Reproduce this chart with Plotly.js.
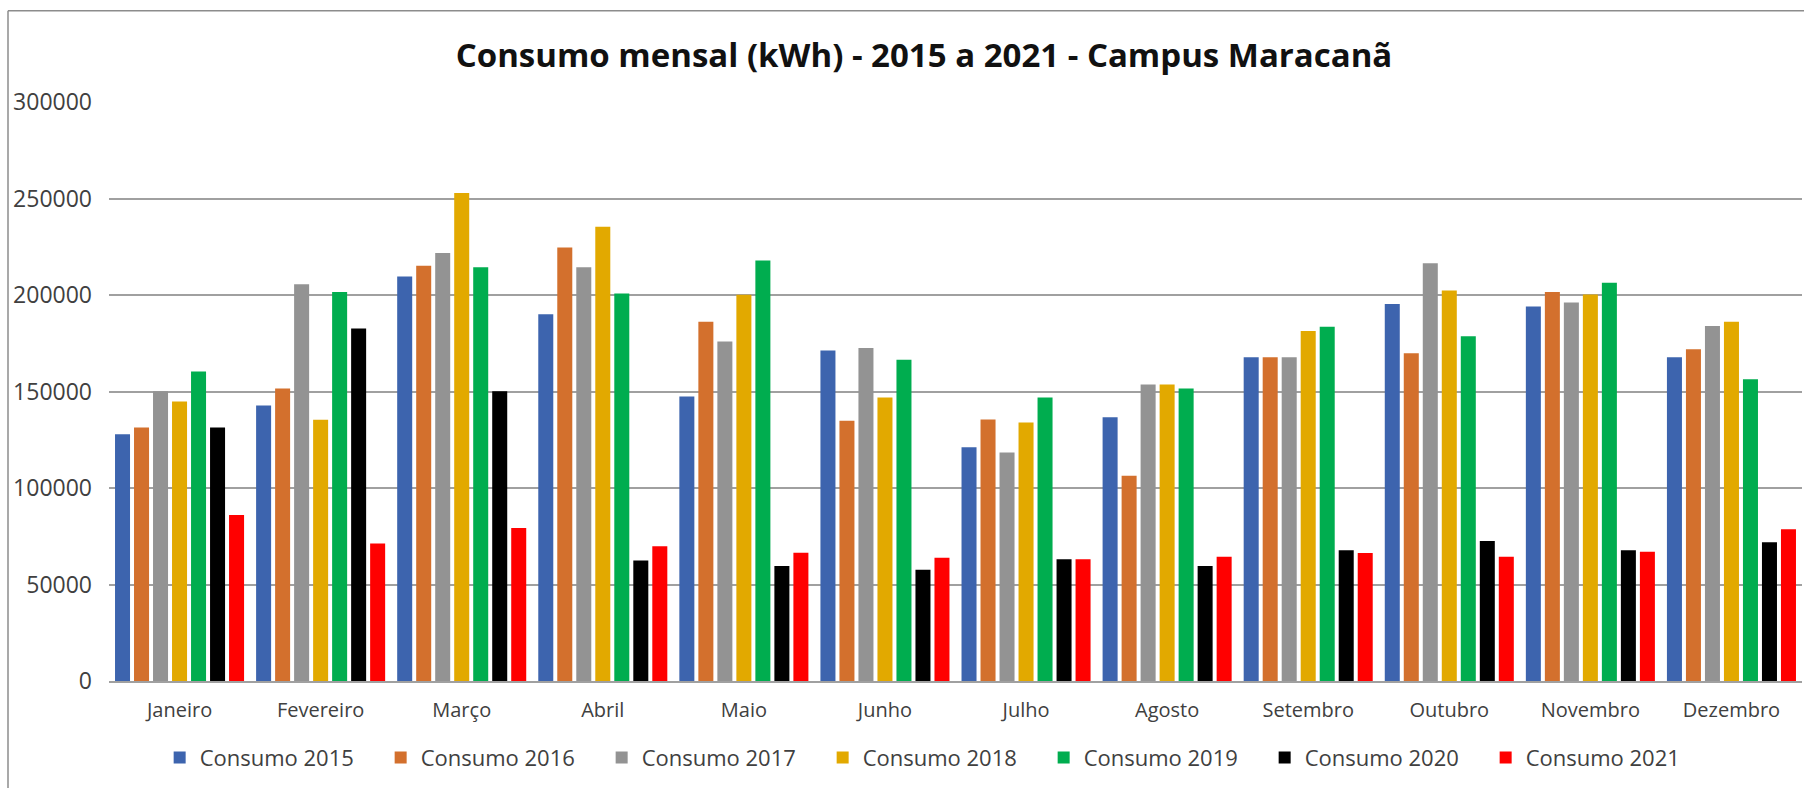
<!DOCTYPE html>
<html>
<head>
<meta charset="utf-8">
<script src="https://cdn.plot.ly/plotly-3.0.1.min.js"></script>
<style>
  html, body { margin: 0; padding: 0; background: #ffffff; }
  #chart { width: 1804px; height: 788px; }
</style>
</head>
<body>
<div id="chart"></div>
<script>
// ---- Data ----
const months = ["Janeiro", "Fevereiro", "Março", "Abril", "Maio", "Junho",
                "Julho", "Agosto", "Setembro", "Outubro", "Novembro", "Dezembro"];

const consumo2015 = [127900, 142700, 209600, 190000, 147400, 171200, 121100, 136700, 167800, 195400, 194000, 167800];
const consumo2016 = [131300, 151500, 215100, 224600, 186100, 134800, 135500, 106400, 167800, 169800, 201600, 171900];
const consumo2017 = [150100, 205600, 221800, 214400, 175900, 172600, 118400, 153600, 167800, 216500, 196100, 184000];
const consumo2018 = [144800, 135300, 252900, 235300, 200100, 146900, 133900, 153600, 181400, 202300, 200200, 186100];
const consumo2019 = [160300, 201600, 214400, 200800, 217900, 166400, 146900, 151500, 183500, 178600, 206300, 156400];
const consumo2020 = [131300, 182600, 150100, 62400, 59600, 57700, 63100, 59600, 67700, 72600, 67700, 71900];
const consumo2021 = [86000, 71200, 79300, 69800, 66500, 63800, 63100, 64400, 66300, 64400, 67000, 78600];

const seriesNames = ["Consumo 2015", "Consumo 2016", "Consumo 2017", "Consumo 2018",
                     "Consumo 2019", "Consumo 2020", "Consumo 2021"];
const seriesValues = [consumo2015, consumo2016, consumo2017, consumo2018,
                      consumo2019, consumo2020, consumo2021];
const seriesColors = ["#3D64AE", "#D3702D", "#939393", "#E2A900", "#00AD4F", "#000000", "#FF0000"];

const yTicks = [0, 50000, 100000, 150000, 200000, 250000, 300000];

const traces = seriesNames.map((name, i) => ({
  type: "bar",
  name: name,
  x: months,
  y: seriesValues[i],
  marker: { color: seriesColors[i], line: { width: 0 } },
  hoverinfo: "x+y+name"
}));

const fontFam = "'Open Sans', 'Noto Sans', Arial, sans-serif";

const layout = {
  width: 1804,
  height: 788,
  paper_bgcolor: "#ffffff",
  plot_bgcolor: "#ffffff",
  margin: { l: 109, r: 2, t: 102, b: 107, pad: 0 },
  barmode: "group",
  bargap: 0.057,
  bargroupgap: 0.21,
  title: {
    text: "<b>Consumo mensal (kWh) - 2015 a 2021 - Campus Maracanã</b>",
    font: { family: fontFam, size: 33, color: "#111111" },
    xref: "container", x: 0.5122, xanchor: "center",
    yref: "container", y: 0.930, yanchor: "middle"
  },
  xaxis: {
    type: "category",
    showgrid: false,
    showline: true,
    linecolor: "#a0a0a0",
    linewidth: 1.5,
    ticks: "",
    tickfont: { family: fontFam, size: 20, color: "#404040" },
    ticklabelstandoff: 10,
    zeroline: false,
    fixedrange: true
  },
  yaxis: {
    range: [0, 300000],
    tickvals: yTicks,
    ticktext: yTicks.map(v => String(v)),
    showgrid: true,
    gridcolor: "#a0a0a0",
    gridwidth: 1.5,
    zeroline: false,
    showline: false,
    ticks: "",
    tickfont: { family: fontFam, size: 23, color: "#404040" },
    ticklabelstandoff: 16,
    fixedrange: true
  },
  showlegend: true,
  legend: {
    orientation: "h",
    xref: "container", x: 0.0885, xanchor: "left",
    yref: "container", y: 0.0384, yanchor: "middle",
    entrywidth: 176,
    entrywidthmode: "pixels",
    font: { family: fontFam, size: 22, color: "#404040" },
    bgcolor: "rgba(0,0,0,0)",
    borderwidth: 0,
    itemclick: false,
    itemdoubleclick: false
  },
  shapes: [
    {
      type: "line",
      xref: "paper", yref: "paper",
      x0: (8 - 109) / 1693, x1: (8 - 109) / 1693,
      y0: (681 - 800) / 579, y1: (681 - 10.7) / 579,
      line: { color: "#8c8c8c", width: 1.5 },
      layer: "below"
    },
    {
      type: "line",
      xref: "paper", yref: "paper",
      x0: (8 - 109) / 1693, x1: (1820 - 109) / 1693,
      y0: (681 - 10.7) / 579, y1: (681 - 10.7) / 579,
      line: { color: "#8c8c8c", width: 1.5 },
      layer: "below"
    }
  ]
};

Plotly.newPlot("chart", traces, layout, { displayModeBar: false });
</script>
</body>
</html>
